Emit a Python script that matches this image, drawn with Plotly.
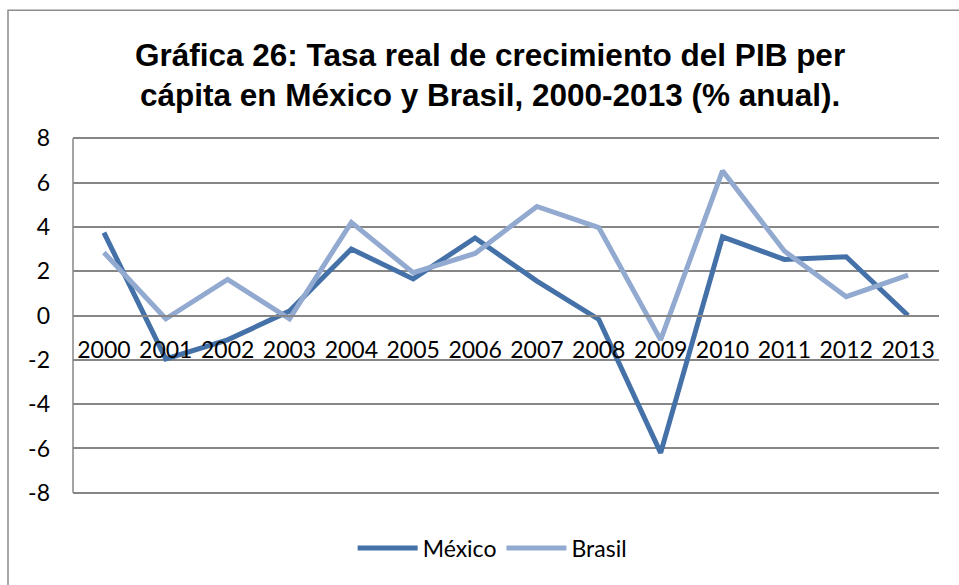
import plotly.graph_objects as go

years = ["2000", "2001", "2002", "2003", "2004", "2005", "2006",
         "2007", "2008", "2009", "2010", "2011", "2012", "2013"]
mexico = [3.74, -1.96, -1.1, 0.2, 3.0, 1.65, 3.5, 1.55, -0.18, -6.2, 3.55, 2.53, 2.65, 0.0]
brasil = [2.84, -0.15, 1.63, -0.15, 4.2, 1.93, 2.8, 4.92, 3.97, -1.1, 6.53, 2.91, 0.85, 1.82]
y_ticks = [-8, -6, -4, -2, 0, 2, 4, 6, 8]
y_labels = ["-8", "-6", "-4", "-2", "0", "2", "4", "6", "8"]

tick_font = dict(family="Lato, Open Sans, sans-serif", size=23, color="#000000")

fig = go.Figure()
fig.add_trace(go.Scatter(x=years, y=mexico, mode="lines", name="México",
                         line=dict(color="#4471a7", width=5)))
fig.add_trace(go.Scatter(x=years, y=brasil, mode="lines", name="Brasil",
                         line=dict(color="#92a9d0", width=5)))

# plot height 359.4 px for 16.2 units -> gridlines at 8 / -8 fall at y=138 / 493
fig.update_layout(
    width=959, height=585,
    margin=dict(l=73, r=20, t=135.8, b=89.8),
    paper_bgcolor="#ffffff", plot_bgcolor="#ffffff",
    title=dict(text="Gráfica 26: Tasa real de crecimiento del PIB per<br>cápita en México y Brasil, 2000-2013 (% anual).",
               x=0.511, xanchor="center", y=0.888, yanchor="middle",
               font=dict(family="Liberation Sans, Arial, sans-serif", size=31.5, color="#000000", weight="bold")),
    showlegend=True,
    legend=dict(orientation="h", x=0.484, xanchor="center", y=-0.148, yanchor="middle",
                font=tick_font, itemwidth=60, traceorder="normal"),
    xaxis=dict(type="category", range=[-0.5, 13.5], anchor="free", position=0.5,
               showgrid=False, showline=True, linecolor="#868686", linewidth=1.5,
               ticks="", tickfont=tick_font, ticklabelstandoff=14, zeroline=False),
    yaxis=dict(range=[-8.1, 8.1], tickvals=y_ticks, ticktext=y_labels, showgrid=True,
               gridcolor="#868686", gridwidth=1.5, zeroline=False, showline=False,
               ticks="", tickfont=tick_font, ticklabelstandoff=22),
    shapes=[dict(type="rect", xref="paper", yref="paper",
                 x0=(8 - 73) / 866, x1=(975 - 73) / 866,
                 y0=-0.4, y1=1.35,
                 line=dict(color="#8c8c8c", width=1.5), layer="below"),
            dict(type="line", xref="paper", yref="y", x0=0, x1=0,
                 y0=y_ticks[0], y1=y_ticks[-1],
                 line=dict(color="#868686", width=1.5))],
)

fig.write_html("out.html", config={"displayModeBar": False},
               post_script="document.body.style.margin='0';")
